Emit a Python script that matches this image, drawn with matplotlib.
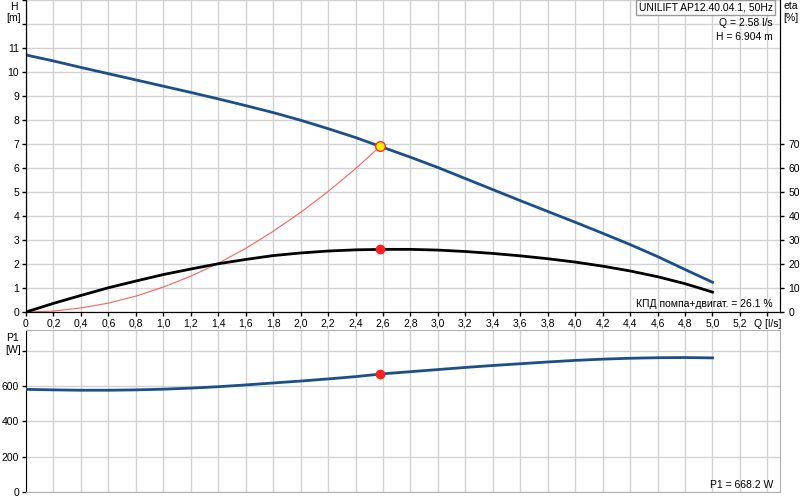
import matplotlib
matplotlib.use("Agg")
import matplotlib.pyplot as plt

plt.rcParams['font.family'] = ['Liberation Sans', 'DejaVu Sans']
plt.rcParams['font.size'] = 7.5

# pump curve data
q_pts = [0.0, 0.2, 0.4, 0.6, 0.8, 1.0, 1.2, 1.4, 1.6, 1.8, 2.0, 2.2, 2.4, 2.6,
         2.8, 3.0, 3.2, 3.4, 3.6, 3.8, 4.0, 4.2, 4.4, 4.6, 4.8, 5.0]
h_pts = [10.71, 10.46, 10.19, 9.93, 9.67, 9.41, 9.15, 8.88, 8.60, 8.31, 7.99, 7.64,
         7.27, 6.86, 6.45, 6.02, 5.56, 5.10, 4.64, 4.19, 3.74, 3.28, 2.81, 2.31,
         1.77, 1.24]
eta_pts = [0.0, 3.6, 6.9, 10.1, 12.9, 15.6, 17.9, 20.1, 21.9, 23.5, 24.6, 25.4,
           25.9, 26.1, 26.1, 25.8, 25.2, 24.4, 23.4, 22.2, 20.8, 19.1, 17.1, 14.7,
           11.8, 8.3]
p1_pts = [581, 578, 576, 576, 578, 582, 588, 596, 606, 617, 628, 640, 653, 669,
          681, 693, 705, 716, 726, 736, 745, 752, 757, 760, 761, 759]

# system curve up to the duty point
q_sys = [0.0, 0.2, 0.4, 0.6, 0.8, 1.0, 1.2, 1.4, 1.6, 1.8, 2.0, 2.2, 2.4, 2.58]
h_sys = [0.0, 0.04, 0.17, 0.37, 0.66, 1.04, 1.49, 2.03, 2.65, 3.36, 4.15, 5.02,
         5.97, 6.904]

# duty point
q_duty = 2.58
h_duty = 6.904
eta_duty = 26.1
p1_duty = 668.2

title = "UNILIFT AP12.40.04.1, 50Hz"
x_ticks = [round(0.2 * i, 1) for i in range(28)]

blue = '#1b4f8c'
grid_c = '#d2d2d2'
W, H = 803, 500

fig = plt.figure(figsize=(W / 100, H / 100), dpi=100)
ax = fig.add_axes([26 / W, 1 - 312 / H, 754 / W, 312 / H])
ax2 = ax.twinx()
axp = fig.add_axes([26 / W, 1 - 492 / H, 754 / W, 162 / H])

xmax = 754 / 137.3

# ---- top panel: H and eta ----
ax.set_xlim(0, xmax)
ax.set_ylim(0, 13)
ax2.set_ylim(0, 130)
ax.set_xticks(x_ticks)
xl = [("%.1f" % v).replace('.', ',') if v != 0 else '0' for v in x_ticks]
xl[-1] = 'Q [l/s]'
ax.set_xticklabels(xl)
ax.set_yticks(range(14))
ax.set_yticklabels([str(i) if i <= 11 else '' for i in range(14)])
ax2.set_yticks(range(0, 80, 10))
ax.grid(True, color=grid_c, lw=1)
ax.set_axisbelow(True)
ax.tick_params(length=3, width=1, pad=2, colors='#000000')
ax2.tick_params(length=3, width=1, pad=3)
ax.spines['top'].set_visible(False)
ax2.spines['top'].set_visible(False)

ax.plot(q_pts, h_pts, color=blue, lw=2, zorder=3)
ax.plot(q_sys, h_sys, color='#ff5050', lw=0.8, alpha=0.9, zorder=2)
ax2.plot(q_pts, eta_pts, color='black', lw=2, zorder=3)
ax2.plot([q_duty], [eta_duty], 'o', color='#ff2020', ms=6, zorder=4)
ax.plot([q_duty], [h_duty], 'o', mfc='#ffee00', mec='#ff3030', mew=1, ms=7, zorder=5)

fig.text(14 / W, 1 - 7 / H, 'H', ha='center', va='center')
fig.text(14 / W, 1 - 18 / H, '[m]', ha='center', va='center')
fig.text(791 / W, 1 - 6 / H, 'eta', ha='center', va='center')
fig.text(791 / W, 1 - 18 / H, '[%]', ha='center', va='center')

ax.text(0.9905, 0.993, title, transform=ax.transAxes, ha='right', va='top',
        bbox=dict(boxstyle='square,pad=0.25', fc='white', ec='#999999', lw=1))
ax.text(0.9905, 0.925, 'Q = 2.58 l/s', transform=ax.transAxes, ha='right', va='center')
ax.text(0.9905, 0.883, 'H = 6.904 m', transform=ax.transAxes, ha='right', va='center')
ax.text(0.9905, 0.025, 'КПД помпа+двигат. = 26.1 %', transform=ax.transAxes,
        ha='right', va='center')

# ---- bottom panel: P1 ----
axp.set_xlim(0, xmax)
axp.set_ylim(0, 162 / 0.17667)
axp.set_xticks(x_ticks)
axp.set_xticklabels([])
axp.set_yticks([0, 200, 400, 600, 800])
axp.set_yticklabels(['0', '200', '400', '600', ''])
axp.grid(True, color=grid_c, lw=1)
axp.set_axisbelow(True)
axp.tick_params(length=3, width=1, pad=2)
axp.tick_params(axis='x', length=0)
for s in ['top', 'right', 'bottom']:
    axp.spines[s].set_color('#b0b0b0')

axp.plot(q_pts, p1_pts, color=blue, lw=2, zorder=3)
axp.plot([q_duty], [p1_duty], 'o', color='#ff2020', ms=6, zorder=4)

fig.text(13 / W, 1 - 338 / H, 'P1', ha='center', va='center')
fig.text(13 / W, 1 - 350 / H, '[W]', ha='center', va='center')
axp.text(0.9905, 0.045, 'P1 = 668.2 W', transform=axp.transAxes, ha='right', va='center')

fig.savefig('out.png', dpi=100)
